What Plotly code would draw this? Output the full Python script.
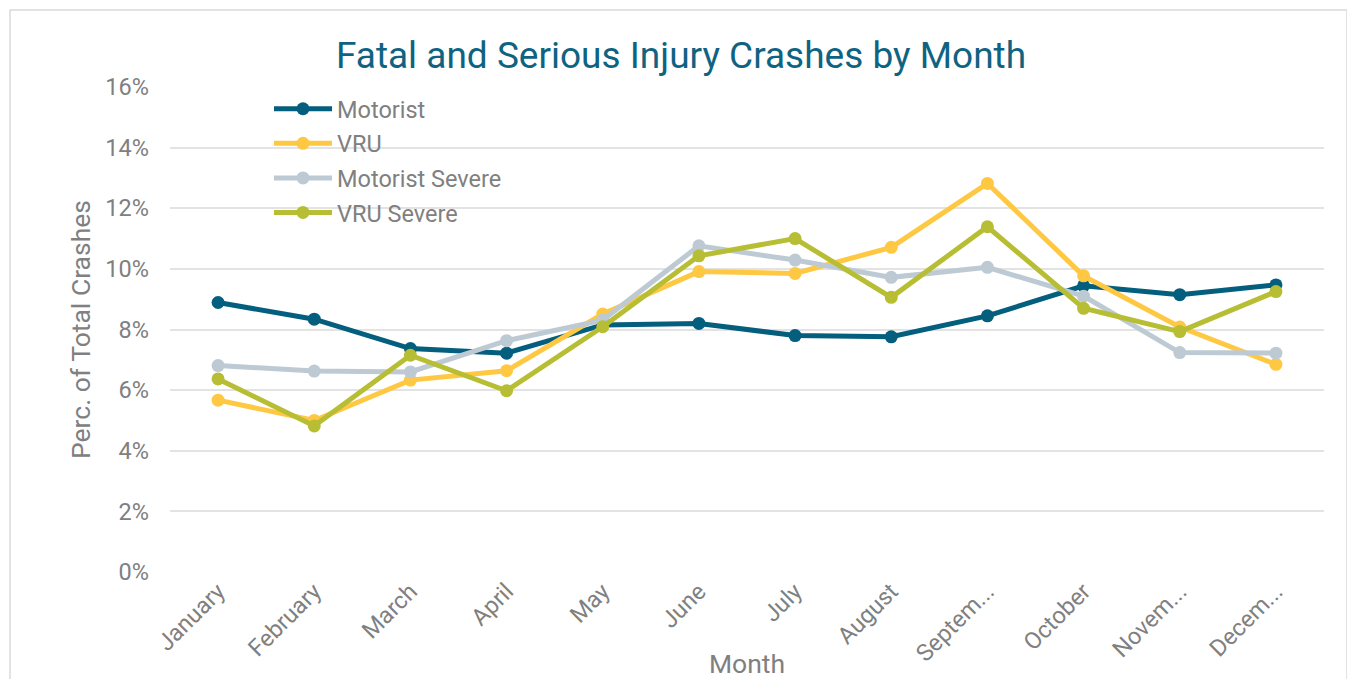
import plotly.graph_objects as go

months = ["January", "February", "March", "April", "May", "June", "July",
          "August", "Septem...", "October", "Novem...", "Decem..."]
motorist = [8.89, 8.34, 7.37, 7.22, 8.15, 8.20, 7.80, 7.76, 8.45, 9.44, 9.15, 9.47]
vru = [5.67, 5.00, 6.33, 6.64, 8.51, 9.91, 9.85, 10.71, 12.82, 9.77, 8.08, 6.85]
motorist_severe = [6.81, 6.63, 6.60, 7.63, 8.31, 10.76, 10.29, 9.72, 10.05, 9.10, 7.24, 7.22]
vru_severe = [6.37, 4.82, 7.15, 5.98, 8.09, 10.43, 11.00, 9.06, 11.39, 8.70, 7.93, 9.25]

series = [
    ("Motorist", motorist, "#045E7D"),
    ("VRU", vru, "#FFC843"),
    ("Motorist Severe", motorist_severe, "#BDCAD4"),
    ("VRU Severe", vru_severe, "#B7BE34"),
]

# page has an 8px body margin; figure coordinates = page coordinates - 8
OFF = 8
W, H = 1355 - OFF, 679 - OFF
L = 170 - OFF
T = 87 - OFF
R = W - (1324 - OFF)
B = H - (572 - OFF)

fig = go.Figure()
for name, vals, col in series:
    fig.add_trace(go.Scatter(
        x=months, y=vals, name=name, mode="lines+markers",
        line=dict(color=col, width=5),
        marker=dict(color=col, size=13),
        legendgroup=name,
    ))

pw = W - L - R
ph = H - T - B


def px_x(page_x):
    return (page_x - OFF - L) / pw


def px_y(page_y):
    return (H - B - (page_y - OFF)) / ph


# outer chart frame
fig.add_shape(type="rect", xref="paper", yref="paper",
              x0=px_x(10), x1=px_x(1347), y0=px_y(700), y1=px_y(10),
              line=dict(color="#D9D9D9", width=1.5), layer="below")
# white legend backing that hides the gridlines behind the legend
fig.add_shape(type="rect", xref="paper", yref="paper",
              x0=px_x(265), x1=px_x(517), y0=px_y(232), y1=px_y(90),
              line=dict(width=0), fillcolor="white", layer="between")

fig.update_layout(
    width=W, height=H,
    margin=dict(l=L, r=R, t=T, b=B, autoexpand=False),
    paper_bgcolor="white", plot_bgcolor="white",
    font=dict(family="Roboto", color="#808080"),
    title=dict(text="Fatal and Serious Injury Crashes by Month",
               x=(681 - OFF) / W, xanchor="center", y=1 - (55 - OFF) / H, yanchor="middle",
               font=dict(family="Roboto", size=37, color="#0F6382")),
    legend=dict(x=px_x(269), y=px_y(87), xanchor="left", yanchor="top",
                bgcolor="rgba(0,0,0,0)", font=dict(size=23.5, color="#808080"),
                itemwidth=58, tracegroupgap=1),
    showlegend=True,
)
fig.update_xaxes(
    automargin=False, range=[-0.5, 11.5],
    tickangle=-45, tickfont=dict(size=23.5, color="#808080"),
    showgrid=False, showline=False, ticks="",
    title=dict(text="Month", font=dict(size=26.5, color="#808080"), standoff=0),
)
fig.update_yaxes(
    automargin=False,
    range=[0, 16], dtick=2, ticksuffix="%",
    tickfont=dict(size=23.5, color="#808080"),
    gridcolor="#E3E3E3", gridwidth=1.5, zeroline=False,
    showline=False, ticks="", ticklabelstandoff=20,
    title=dict(text="Perc. of Total Crashes", font=dict(size=26.5, color="#808080"), standoff=7),
)

fig.write_html("out.html")
